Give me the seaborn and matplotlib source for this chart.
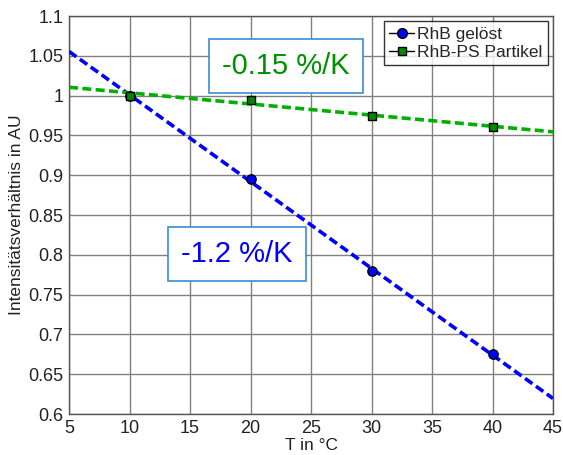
import matplotlib
matplotlib.use("Agg")
import matplotlib.pyplot as plt
import seaborn as sns
import numpy as np
import pandas as pd
from matplotlib.lines import Line2D

# Data
temps = [10, 20, 30, 40]
rhb_geloest = [1.0, 0.895, 0.78, 0.675]
rhb_ps = [1.0, 0.995, 0.975, 0.96]
series_names = ["RhB gelöst", "RhB-PS Partikel"]
x_ticks = [5, 10, 15, 20, 25, 30, 35, 40, 45]
y_ticks = [0.6, 0.65, 0.7, 0.75, 0.8, 0.85, 0.9, 0.95, 1.0, 1.05, 1.1]
y_ticklabels = ["0.6", "0.65", "0.7", "0.75", "0.8", "0.85", "0.9", "0.95", "1", "1.05", "1.1"]

sns.set_style("white")
plt.rcParams['font.family'] = ['Liberation Sans', 'DejaVu Sans']

fig = plt.figure(figsize=(5.63, 4.55), dpi=100)
ax = fig.add_axes([0.1226, 0.0901, 0.8597, 0.8747])
ax.set_xlim(5, 45)
ax.set_ylim(0.6, 1.1)

blue = "#0000ff"
green_line = "#00b000"
green_mark = "#008a00"

df = pd.DataFrame({"T": temps, "blue": rhb_geloest, "green": rhb_ps})

sns.regplot(data=df, x="T", y="blue", ax=ax, ci=None, truncate=False,
            marker="o",
            scatter_kws=dict(s=45, color=blue, edgecolors="black", linewidths=1.0, zorder=5, alpha=1),
            line_kws=dict(color=blue, lw=2.6, dashes=(2.5, 1.2), zorder=4))
sns.regplot(data=df, x="T", y="green", ax=ax, ci=None, truncate=False,
            marker="s",
            scatter_kws=dict(s=36, color=green_mark, edgecolors="black", linewidths=1.0, zorder=6, alpha=1),
            line_kws=dict(color=green_line, lw=2.6, dashes=(2.5, 1.2), zorder=4))

ax.set_xlim(5, 45)
ax.set_ylim(0.6, 1.1)
ax.set_xticks(x_ticks)
ax.set_yticks(y_ticks)
ax.set_yticklabels(y_ticklabels)
ax.grid(True, color="#808080", lw=1.0)
ax.set_axisbelow(True)
ax.tick_params(length=0, labelsize=13, pad=4, colors="#222222")
for s in ax.spines.values():
    s.set_color("#555555")
    s.set_linewidth(1.0)

ax.set_xlabel("T in °C", fontsize=12.5, labelpad=1, color="#222222")
ax.set_ylabel("Intensitätsverhältnis in AU", fontsize=12.5, labelpad=3, color="#222222")

handles = [
    Line2D([], [], color="black", lw=1.0, marker="o", markersize=7,
           markerfacecolor=blue, markeredgecolor="black"),
    Line2D([], [], color="black", lw=1.0, marker="s", markersize=6,
           markerfacecolor=green_mark, markeredgecolor="black"),
]
leg = ax.legend(handles, series_names, loc="upper right", fontsize=12.5,
                frameon=True, fancybox=False, edgecolor="black",
                handlelength=1.4, handletextpad=0.2, borderpad=0.3,
                labelspacing=0.2, borderaxespad=0.3)
leg.get_frame().set_linewidth(1.0)
leg.set_zorder(8)

box_style = dict(boxstyle="square,pad=0.45", facecolor="white", edgecolor="#3b8ccf", lw=1.2)
ax.text(22.9, 1.037, "-0.15 %/K", color="#009000", fontsize=21,
        ha="center", va="center", bbox=box_style, zorder=7)
ax.text(18.9, 0.801, "-1.2 %/K", color=blue, fontsize=21,
        ha="center", va="center", bbox=box_style, zorder=7)

fig.savefig("out.png", dpi=100)
